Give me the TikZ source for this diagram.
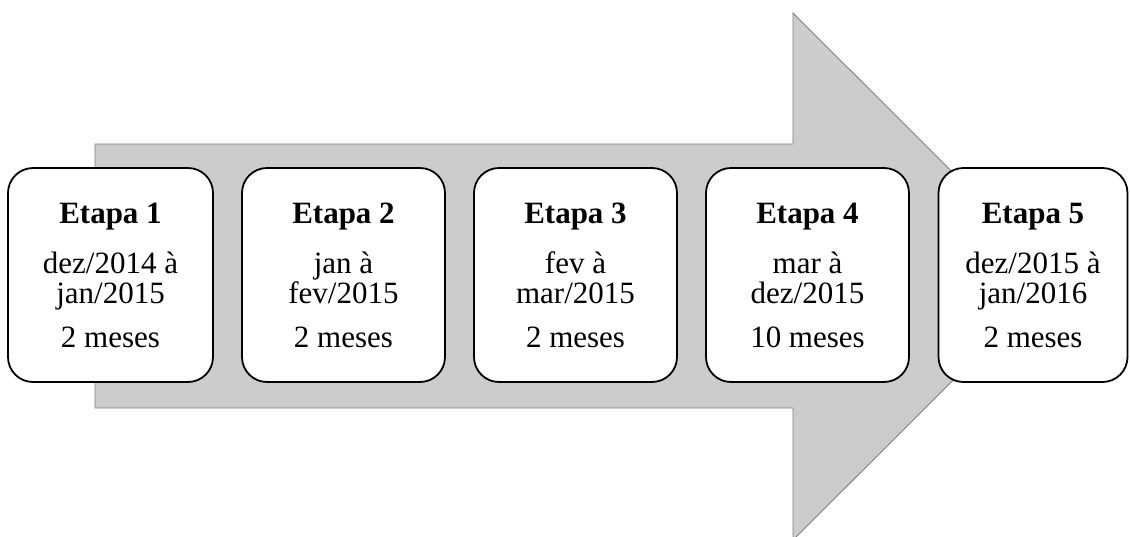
\documentclass[tikz,border=0pt]{standalone}
\usepackage{fontspec}
\setmainfont{Liberation Serif}
\definecolor{arrowfill}{HTML}{CCCCCC}
\definecolor{arrowline}{HTML}{808080}
\tikzset{
  stagebox/.style={draw=black, line width=1.8pt, fill=white, rounded corners=25pt,
    rectangle, inner sep=0pt, minimum height=214pt, align=center,
    font=\fontsize{31}{30}\selectfont},
  bigarrow/.style={fill=arrowfill, draw=arrowline, line width=0.9pt, line join=miter}
}
\begin{document}
\begin{tikzpicture}[x=1pt,y=-1pt]
\useasboundingbox (0,0) rectangle (1130,536);
\clip (0,0) rectangle (1130,536);
\fill[white] (0,0) rectangle (1130,536);
\draw[bigarrow] (95,144) -- (793,144) -- (793,13) -- (1057,276.5) -- (793,540)
  -- (793,408) -- (95,408) -- cycle;
\node[stagebox, minimum width=205pt] (e1) at (110.5,275)
  {\textbf{Etapa 1}\\[20pt]dez/2014 à\\jan/2015\\[14pt]2 meses};
\node[stagebox, minimum width=203pt] (e2) at (343.5,275)
  {\textbf{Etapa 2}\\[20pt]jan à\\fev/2015\\[14pt]2 meses};
\node[stagebox, minimum width=203pt] (e3) at (575.5,275)
  {\textbf{Etapa 3}\\[20pt]fev à\\mar/2015\\[14pt]2 meses};
\node[stagebox, minimum width=203pt] (e4) at (807.5,275)
  {\textbf{Etapa 4}\\[20pt]mar à\\dez/2015\\[14pt]10 meses};
\node[stagebox, minimum width=189pt] (e5) at (1033,275)
  {\textbf{Etapa 5}\\[20pt]dez/2015 à\\jan/2016\\[14pt]2 meses};
\end{tikzpicture}
\end{document}
